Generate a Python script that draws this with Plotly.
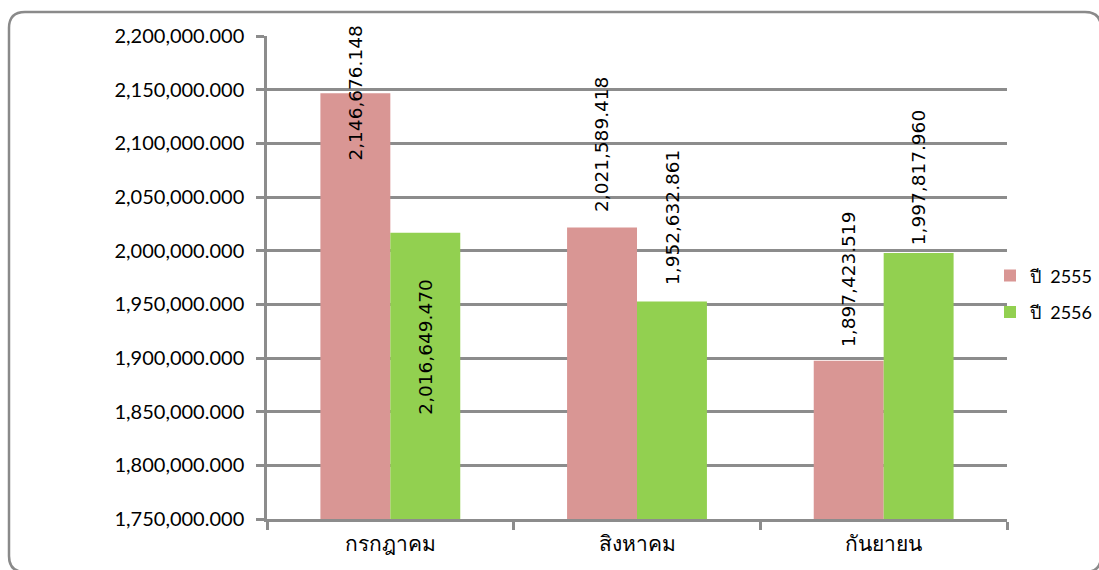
import plotly.graph_objects as go

months = ["กรกฎาคม", "สิงหาคม", "กันยายน"]
series_names = ["ปี\u00a0\u00a02555", "ปี\u00a0\u00a02556"]
values_2555 = [2146676.148, 2021589.418, 1897423.519]
values_2556 = [2016649.470, 1952632.861, 1997817.960]
y_ticks = [1750000, 1800000, 1850000, 1900000, 1950000, 2000000, 2050000, 2100000, 2150000, 2200000]

colors = ["#D99694", "#92D050"]
grid = "#8C8C8C"

W, H = 1099, 570
L, R, T, B = 267, 92, 36, 51
pw, ph = W - L - R, H - T - B

fig = go.Figure()
for i, (name, vals) in enumerate(zip(series_names, [values_2555, values_2556])):
    fig.add_trace(go.Bar(x=months, y=vals, name=name, marker=dict(color=colors[i], line=dict(width=0)),
                         legendgroup=f"g{i}", cliponaxis=False))

# label placement styles (anchor, pixel shift) per series/category
label_styles = [
    [("middle", 0), ("bottom", 13), ("bottom", 12)],
    [("top", -45), ("bottom", 14), ("bottom", 6)],
]
xshifts = [-35, 35]
for i, vals in enumerate([values_2555, values_2556]):
    for j, (m, v) in enumerate(zip(months, vals)):
        anc, sh = label_styles[i][j]
        fig.add_annotation(x=m, y=v, text=f"{v:,.3f}", textangle=-90, showarrow=False,
                           xshift=xshifts[i], yshift=sh, yanchor=anc, xanchor="center",
                           font=dict(family="DejaVu Sans", size=18.5, color="#000"))

def px(x):
    return (x - L) / pw

def py(y):
    return (H - B - y) / ph

x0, x1, y0, y1, r = 9, 1101, 12, 572, 16
path = (f"M {px(x0)},{py(y0 + r)} Q {px(x0)},{py(y0)} {px(x0 + r)},{py(y0)} "
        f"L {px(x1 - r)},{py(y0)} Q {px(x1)},{py(y0)} {px(x1)},{py(y0 + r)} "
        f"L {px(x1)},{py(y1 - r)} Q {px(x1)},{py(y1)} {px(x1 - r)},{py(y1)} "
        f"L {px(x0 + r)},{py(y1)} Q {px(x0)},{py(y1)} {px(x0)},{py(y1 - r)} Z")
fig.add_shape(type="path", path=path, xref="paper", yref="paper",
              line=dict(color="#8A8A8A", width=2.5), layer="below")

fig.update_layout(
    width=W, height=H,
    margin=dict(l=L, r=R, t=T, b=B, pad=0, autoexpand=False),
    paper_bgcolor="white", plot_bgcolor="white",
    barmode="group", bargap=0.433, bargroupgap=0,
    font=dict(family="Lato, Noto Sans, sans-serif", size=20, color="#000"),
    legend=dict(x=px(990), y=0.466, xanchor="left", yanchor="middle", traceorder="grouped",
                tracegroupgap=10, font=dict(size=18), itemwidth=30, bgcolor="rgba(0,0,0,0)"),
    showlegend=True,
)
fig.update_yaxes(range=[1750000, 2200000], tickvals=y_ticks, tickformat=",.3f",
                 showgrid=True, gridcolor=grid, gridwidth=2.5,
                 showline=True, linecolor=grid, linewidth=2.5,
                 ticks="outside", ticklen=8, tickcolor=grid, tickwidth=2.5,
                 zeroline=False, ticklabelstandoff=8)
fig.update_xaxes(showline=True, linecolor=grid, linewidth=2.5, ticks="outside", ticklen=8,
                 tickcolor=grid, tickwidth=2.5, tickson="boundaries", showgrid=False,
                 tickfont=dict(size=21, family="Noto Sans, sans-serif"), ticklabelstandoff=4)

fig.write_html("out.html", config={"displayModeBar": False},
               post_script="document.body.style.margin='0';document.body.style.overflow='hidden';")
